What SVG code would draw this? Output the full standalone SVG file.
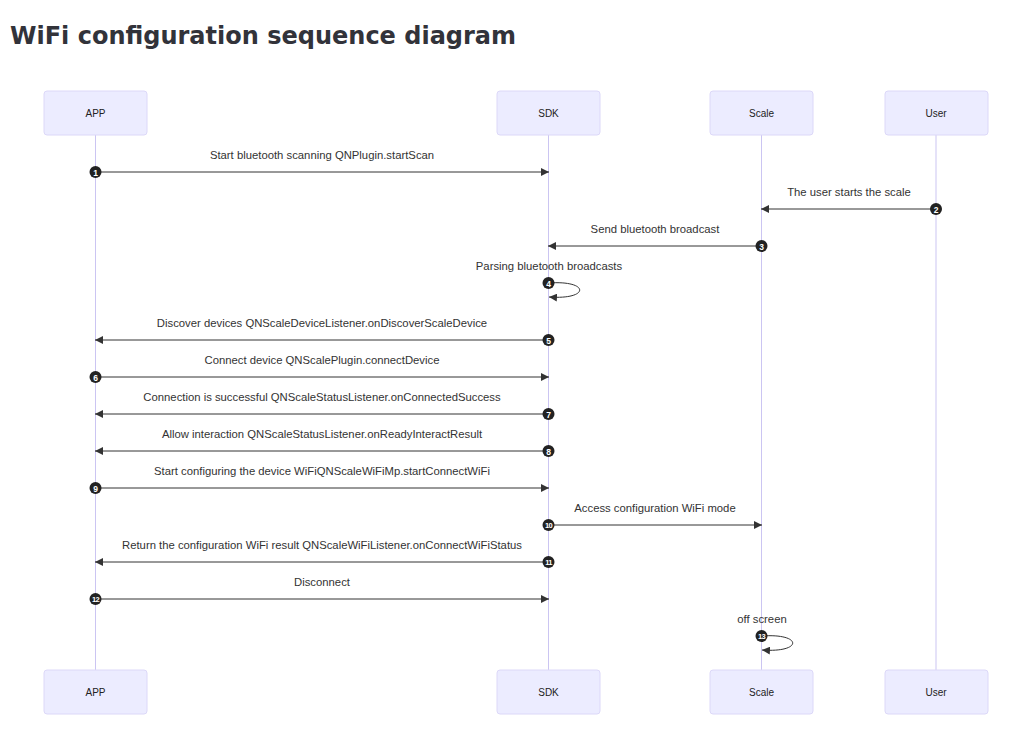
<svg xmlns="http://www.w3.org/2000/svg" width="1032" height="730" viewBox="0 0 1032 730">
<defs>
<style>
.title{font-family:"DejaVu Sans",sans-serif;font-weight:bold;font-size:24px;fill:#32333a}
.actor rect{fill:#ECECFF;stroke:#dcd8f8;stroke-width:1}
.actor text{font-family:"Liberation Sans",Arial,sans-serif;font-size:10px;fill:#222;text-anchor:middle;dominant-baseline:central}
.life{stroke:#cbc5f2;stroke-width:1}
.msg{stroke:#333;stroke-width:1;fill:none}
.lbl{font-family:"Liberation Sans",Arial,sans-serif;font-size:11.3px;fill:#333;text-anchor:middle}
.seq circle{fill:#222}
.seq text{font-family:"Liberation Sans",Arial,sans-serif;font-size:8.5px;font-weight:bold;fill:#fff;text-anchor:middle;dominant-baseline:central}
.seq text.two{font-size:7.5px;letter-spacing:-0.6px}
</style>
<marker id="ah" viewBox="0 0 10 10" refX="10" refY="5" markerWidth="8" markerHeight="8" markerUnits="userSpaceOnUse" orient="auto">
<path d="M0,0 L10,5 L0,10 z" fill="#333"/>
</marker>
</defs>
<rect width="1032" height="730" fill="#fff"/>
<text class="title" x="10" y="44">WiFi configuration sequence diagram</text>

<g id="lifelines">
<line class="life" x1="95.5" y1="135" x2="95.5" y2="670"/>
<line class="life" x1="548.5" y1="135" x2="548.5" y2="670"/>
<line class="life" x1="761.5" y1="135" x2="761.5" y2="670"/>
<line class="life" x1="936" y1="135" x2="936" y2="670"/>
</g>

<g id="actor-app-top" class="actor"><rect x="44" y="91" width="103" height="44" rx="3"/><text x="95.5" y="113">APP</text></g>
<g id="actor-sdk-top" class="actor"><rect x="497" y="91" width="103" height="44" rx="3"/><text x="548.5" y="113">SDK</text></g>
<g id="actor-scale-top" class="actor"><rect x="710" y="91" width="103" height="44" rx="3"/><text x="761.5" y="113">Scale</text></g>
<g id="actor-user-top" class="actor"><rect x="885" y="91" width="103" height="44" rx="3"/><text x="936" y="113">User</text></g>
<g id="actor-app-bottom" class="actor"><rect x="44" y="670" width="103" height="44" rx="3"/><text x="95.5" y="692">APP</text></g>
<g id="actor-sdk-bottom" class="actor"><rect x="497" y="670" width="103" height="44" rx="3"/><text x="548.5" y="692">SDK</text></g>
<g id="actor-scale-bottom" class="actor"><rect x="710" y="670" width="103" height="44" rx="3"/><text x="761.5" y="692">Scale</text></g>
<g id="actor-user-bottom" class="actor"><rect x="885" y="670" width="103" height="44" rx="3"/><text x="936" y="692">User</text></g>

<g id="connectors">
<line class="msg" x1="95.5" y1="172" x2="549" y2="172" marker-end="url(#ah)"/>
<text class="lbl" x="322" y="159">Start bluetooth scanning QNPlugin.startScan</text>
<line class="msg" x1="936" y1="209" x2="761" y2="209" marker-end="url(#ah)"/>
<text class="lbl" x="849" y="196">The user starts the scale</text>
<line class="msg" x1="761.5" y1="246" x2="548" y2="246" marker-end="url(#ah)"/>
<text class="lbl" x="655" y="233">Send bluetooth broadcast</text>
<path class="msg" d="M548.5,283 C590,280 590,300 549,297" marker-end="url(#ah)"/>
<text class="lbl" x="549" y="270">Parsing bluetooth broadcasts</text>
<line class="msg" x1="548.5" y1="340" x2="95" y2="340" marker-end="url(#ah)"/>
<text class="lbl" x="322" y="327">Discover devices QNScaleDeviceListener.onDiscoverScaleDevice</text>
<line class="msg" x1="95.5" y1="377" x2="549" y2="377" marker-end="url(#ah)"/>
<text class="lbl" x="322" y="364">Connect device QNScalePlugin.connectDevice</text>
<line class="msg" x1="548.5" y1="414" x2="95" y2="414" marker-end="url(#ah)"/>
<text class="lbl" x="322" y="401">Connection is successful QNScaleStatusListener.onConnectedSuccess</text>
<line class="msg" x1="548.5" y1="451" x2="95" y2="451" marker-end="url(#ah)"/>
<text class="lbl" x="322" y="438">Allow interaction QNScaleStatusListener.onReadyInteractResult</text>
<line class="msg" x1="95.5" y1="488" x2="549" y2="488" marker-end="url(#ah)"/>
<text class="lbl" x="322" y="475">Start configuring the device WiFiQNScaleWiFiMp.startConnectWiFi</text>
<line class="msg" x1="548.5" y1="525" x2="762" y2="525" marker-end="url(#ah)"/>
<text class="lbl" x="655" y="512">Access configuration WiFi mode</text>
<line class="msg" x1="548.5" y1="562" x2="95" y2="562" marker-end="url(#ah)"/>
<text class="lbl" x="322" y="549">Return the configuration WiFi result QNScaleWiFiListener.onConnectWiFiStatus</text>
<line class="msg" x1="95.5" y1="599" x2="549" y2="599" marker-end="url(#ah)"/>
<text class="lbl" x="322" y="586">Disconnect</text>
<path class="msg" d="M761.5,636 C803,633 803,653 762,650" marker-end="url(#ah)"/>
<text class="lbl" x="762" y="623">off screen</text>
</g>

<g id="sequence-numbers" class="seq">
<g><circle cx="95.5" cy="172" r="6"/><text x="95.5" y="172.5">1</text></g>
<g><circle cx="936" cy="209" r="6"/><text x="936" y="209.5">2</text></g>
<g><circle cx="761.5" cy="246" r="6"/><text x="761.5" y="246.5">3</text></g>
<g><circle cx="548.5" cy="283" r="6"/><text x="548.5" y="283.5">4</text></g>
<g><circle cx="548.5" cy="340" r="6"/><text x="548.5" y="340.5">5</text></g>
<g><circle cx="95.5" cy="377" r="6"/><text x="95.5" y="377.5">6</text></g>
<g><circle cx="548.5" cy="414" r="6"/><text x="548.5" y="414.5">7</text></g>
<g><circle cx="548.5" cy="451" r="6"/><text x="548.5" y="451.5">8</text></g>
<g><circle cx="95.5" cy="488" r="6"/><text x="95.5" y="488.5">9</text></g>
<g><circle cx="548.5" cy="525" r="6"/><text class="two" x="548.5" y="525.5">10</text></g>
<g><circle cx="548.5" cy="562" r="6"/><text class="two" x="548.5" y="562.5">11</text></g>
<g><circle cx="95.5" cy="599" r="6"/><text class="two" x="95.5" y="599.5">12</text></g>
<g><circle cx="761.5" cy="636" r="6"/><text class="two" x="761.5" y="636.5">13</text></g>
</g>
</svg>
